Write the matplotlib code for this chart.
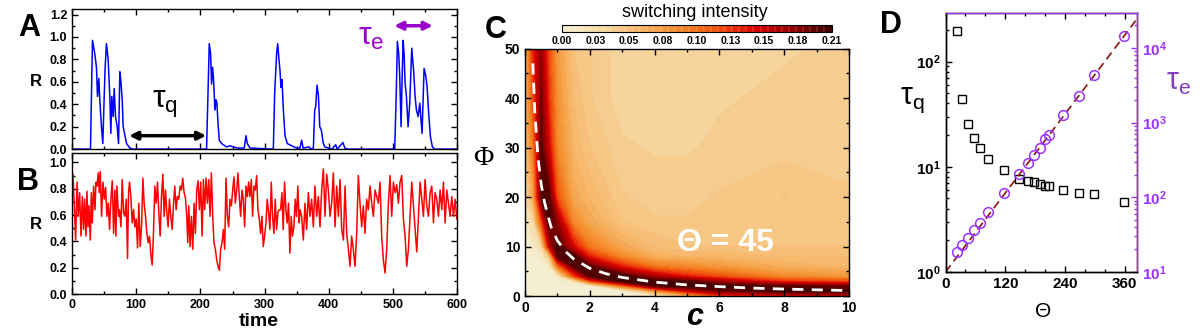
import numpy as np
import matplotlib
matplotlib.use("Agg")
import matplotlib.pyplot as plt
from matplotlib.colors import LinearSegmentedColormap
from matplotlib.ticker import MultipleLocator, LogLocator, NullFormatter, FuncFormatter

plt.rcParams['font.family'] = ['Liberation Sans', 'DejaVu Sans']
plt.rcParams['mathtext.fontset'] = 'custom'
plt.rcParams['mathtext.rm'] = 'Liberation Sans'
plt.rcParams['mathtext.bf'] = 'Liberation Sans:bold'
plt.rcParams['mathtext.it'] = 'Liberation Sans:italic'
plt.rcParams['xtick.direction'] = 'in'
plt.rcParams['ytick.direction'] = 'in'

# ---- panel A: quiet/burst trace (time, R)
trace_a = [(0, 0), (28.8, 0), (31.9, 0.97), (35.5, 0.85), (38.1, 0.73), (39.7, 0.47), (41.8, 0.63),
           (43.3, 0.44), (45.9, 0.20), (48.0, 0.05), (50.0, 0.44), (51.6, 0.73), (53.7, 0.94),
           (56.3, 0.80), (58.9, 0.47), (60.5, 0.14), (62.0, 0.47), (64.1, 0.29), (65.7, 0.54),
           (67.8, 0.29), (70.4, 0.20), (72.5, 0.05), (74.5, 0.69), (76.1, 0.61), (78.2, 0.44),
           (79.7, 0.20), (81.8, 0.14), (85.0, 0.05), (90.1, 0.01), (95, 0), (209.6, 0),
           (213.8, 0.94), (215.9, 0.85), (217.4, 0.58), (219.0, 0.73), (220.6, 0.61), (222.6, 0.35),
           (224.2, 0.44), (225.7, 0.41), (227.8, 0.20), (229.4, 0.08), (233.0, 0.05), (240.8, 0.02),
           (246.0, 0.03), (251.2, 0.02), (257.4, 0.01), (268.3, 0.01), (271.0, 0.12), (273.1, 0.05),
           (277.2, 0.01), (313.6, 0), (315.7, 0.5), (318.8, 0.86), (320.4, 0.94), (322.4, 0.80),
           (324.0, 0.70), (325.5, 0.55), (327.1, 0.62), (329.2, 0.35), (331.8, 0.12), (335.4, 0.05),
           (342.2, 0.03), (350, 0.01), (355, 0.01), (357.7, 0.08), (360, 0.01), (369.2, 0.02),
           (371.8, 0.0), (376, 0.01), (378.0, 0.35), (379.6, 0.38), (381.7, 0.57), (383.8, 0.48),
           (385.9, 0.20), (388.4, 0.17), (391.1, 0.06), (393.7, 0.02), (405, 0.0), (410.8, 0.04),
           (413, 0.0), (422.2, 0.06), (424.8, 0.01), (430, 0), (502.7, 0), (505.3, 0.55),
           (506.8, 0.96), (508.9, 0.85), (510.5, 0.65), (512.6, 0.20), (514.1, 0.60), (515.7, 0.97),
           (517.3, 0.85), (518.8, 0.59), (520.9, 0.47), (523.5, 0.20), (526.1, 0.41), (529.2, 0.90),
           (532.4, 0.68), (534.4, 0.47), (536.5, 0.35), (539.1, 0.29), (541.7, 0.41), (545.3, 0.14),
           (548.4, 0.72), (551.1, 0.65), (553.1, 0.56), (555.2, 0.35), (558.3, 0.11), (561.4, 0.02),
           (565, 0.0), (600, 0)]

# ---- panel B: noisy trace (time, R)
trace_b = [(0, 0.79), (1.6, 0.91), (3.6, 0.67), (5.7, 0.41), (7.8, 0.85), (9.8, 0.59), (11.9, 0.77),
           (14, 0.44), (16.1, 0.74), (18.1, 0.49), (19.7, 0.72), (21.8, 0.44), (23.3, 0.78), (24.9, 0.51),
           (26.4, 0.67), (28.5, 0.41), (30.1, 0.77), (31.6, 0.54), (33.7, 0.82), (35.8, 0.64), (37.3, 0.85),
           (38.9, 0.82), (40.9, 0.92), (42.5, 0.77), (44, 0.93), (46.1, 0.59), (48.2, 0.85), (50.3, 0.72),
           (52.3, 0.81), (54.4, 0.59), (56.5, 0.69), (58.5, 0.49), (60.6, 0.72), (62.7, 0.86), (64.8, 0.46),
           (66.8, 0.79), (68.4, 0.44), (69.9, 0.82), (72.5, 0.59), (74.1, 0.64), (76.2, 0.51), (78.2, 0.87),
           (80.3, 0.62), (82.4, 0.59), (84.5, 0.72), (86.5, 0.27), (88.1, 0.77), (89.6, 0.85), (91.7, 0.74),
           (93.8, 0.54), (95.9, 0.64), (97.9, 0.51), (100, 0.57), (102.1, 0.35), (104.1, 0.69), (106.2, 0.36),
           (108.3, 0.51), (110.4, 0.88), (112.4, 0.69), (114.5, 0.59), (116.6, 0.46), (118.7, 0.39),
           (120.7, 0.44), (122.8, 0.30), (124.9, 0.22), (126.9, 0.46), (129, 0.82), (131.1, 0.69),
           (133.2, 0.85), (135.2, 0.62), (137.3, 0.44), (139.4, 0.74), (141.5, 0.91), (143.5, 0.59),
           (145.6, 0.79), (147.7, 0.62), (149.7, 0.51), (151.8, 0.72), (153.9, 0.59), (156, 0.49),
           (158, 0.67), (160.1, 0.82), (162.2, 0.64), (164.2, 0.74), (166.3, 0.72), (168.4, 0.82),
           (170.5, 0.79), (172.5, 0.88), (174.6, 0.77), (176.7, 0.73), (178.8, 0.59), (180.3, 0.39),
           (181.9, 0.67), (183.9, 0.36), (186, 0.59), (188.1, 0.34), (190.2, 0.69), (192.2, 0.46),
           (194.3, 0.79), (196.4, 0.86), (198.4, 0.64), (200.5, 0.85), (202.6, 0.44), (204.7, 0.87),
           (206.7, 0.64), (208.8, 0.88), (210.9, 0.69), (213, 0.87), (215, 0.59), (217.1, 0.92),
           (219.2, 0.59), (221.2, 0.39), (223.3, 0.34), (225.4, 0.26), (227.5, 0.21), (229.5, 0.18),
           (231.6, 0.34), (233.7, 0.39), (235.8, 0.49), (237.8, 0.34), (239.9, 0.88), (242, 0.59),
           (244, 0.51), (246.1, 0.72), (248.2, 0.67), (250.3, 0.79), (252.3, 0.89), (254.4, 0.69),
           (256.5, 0.79), (258.5, 0.92), (260.6, 0.74), (262.7, 0.59), (264.8, 0.79), (266.8, 0.72),
           (268.9, 0.51), (271, 0.82), (273.1, 0.74), (275.1, 0.85), (277.2, 0.74), (279.3, 0.87),
           (281.3, 0.59), (283.4, 0.82), (285.5, 0.79), (287.6, 0.90), (289.6, 0.64), (291.7, 0.57),
           (293.8, 0.46), (295.9, 0.59), (297.9, 0.36), (300, 0.44), (302.1, 0.54), (304.1, 0.72),
           (306.2, 0.62), (308.3, 0.49), (310.4, 0.85), (312.4, 0.59), (314.5, 0.46), (316.6, 0.72),
           (318.7, 0.49), (320.7, 0.62), (322.8, 0.64), (324.9, 0.64), (327, 0.77), (329, 0.49),
           (331.1, 0.85), (333.2, 0.64), (335.2, 0.54), (337.3, 0.69), (339.4, 0.31), (341.5, 0.59),
           (343.5, 0.44), (345.6, 0.51), (347.7, 0.72), (349.7, 0.59), (351.8, 0.82), (353.9, 0.54),
           (355.1, 0.64), (357.7, 0.59), (360.3, 0.41), (362.9, 0.69), (365.5, 0.49), (368.1, 0.77),
           (370.7, 0.59), (373.3, 0.72), (375.9, 0.51), (378.5, 0.82), (381.1, 0.59), (383.7, 0.74),
           (386.3, 0.51), (388.9, 0.79), (391.5, 0.95), (394.1, 0.59), (396.7, 0.91), (399.3, 0.79),
           (401.9, 0.59), (404.5, 0.69), (407.1, 0.92), (409.7, 0.51), (412.3, 0.82), (414.9, 0.59),
           (417.5, 0.87), (420.1, 0.49), (422.7, 0.41), (425.3, 0.82), (427.9, 0.46), (430.5, 0.34),
           (433.1, 0.21), (435.6, 0.44), (438.2, 0.34), (440.8, 0.21), (443.4, 0.46), (446, 0.90),
           (448.6, 0.69), (451.2, 0.51), (453.8, 0.67), (456.4, 0.46), (459, 0.72), (461.6, 0.64),
           (464.2, 0.82), (466.8, 0.69), (469.4, 0.59), (472, 0.79), (474.6, 0.74), (477.2, 0.69),
           (479.8, 0.85), (482.4, 0.44), (485, 0.26), (487.6, 0.16), (490.2, 0.34), (492.8, 0.69),
           (495.4, 0.90), (498, 0.59), (500.6, 0.85), (503.2, 0.77), (505.8, 0.83), (508.4, 0.69),
           (511, 0.85), (513.6, 0.90), (516.2, 0.57), (518.8, 0.44), (521.4, 0.21), (524, 0.34),
           (526.6, 0.59), (529.2, 0.85), (531.8, 0.67), (534.4, 0.49), (537, 0.32), (539.6, 0.59),
           (542.2, 0.85), (544.8, 0.72), (547.4, 0.59), (550, 0.87), (552.6, 0.67), (555.2, 0.59),
           (557.8, 0.77), (560.4, 0.82), (563, 0.54), (565.6, 0.77), (568.2, 0.72), (570.8, 0.59),
           (573.4, 0.79), (576, 0.64), (578.6, 0.85), (581.2, 0.54), (583.8, 0.79), (586.4, 0.69),
           (589, 0.59), (591.6, 0.74), (594.2, 0.59), (596.8, 0.72), (599.4, 0.57), (600, 0.62)]

# ---- panel C: switching intensity on a (c, Phi) grid
c_grid = [0, 0.25, 0.5, 0.75, 1.0, 1.5, 2, 3, 4, 5, 6, 8, 10]
phi_grid = [0, 1, 2, 3, 4, 6, 8, 10, 15, 20, 30, 40, 50]
intensity = [
    [0.0, 0.0, 0.0, 0.0, 0.0, 0.0, 0.0, 0.0, 0.01, 0.06, 0.12, 0.14, 0.15],
    [0.0, 0.0, 0.0, 0.0, 0.0, 0.0, 0.0, 0.0, 0.08, 0.15, 0.19, 0.21, 0.21],
    [0.0, 0.0, 0.0, 0.0, 0.0, 0.0, 0.0, 0.10, 0.20, 0.21, 0.21, 0.20, 0.19],
    [0.0, 0.0, 0.0, 0.0, 0.0, 0.02, 0.12, 0.21, 0.21, 0.20, 0.17, 0.13, 0.12],
    [0.0, 0.0, 0.0, 0.0, 0.01, 0.12, 0.20, 0.21, 0.17, 0.14, 0.12, 0.09, 0.08],
    [0.0, 0.0, 0.0, 0.01, 0.10, 0.20, 0.20, 0.14, 0.10, 0.09, 0.08, 0.065, 0.06],
    [0.0, 0.005, 0.01, 0.05, 0.20, 0.21, 0.14, 0.09, 0.065, 0.06, 0.06, 0.055, 0.055],
    [0.005, 0.01, 0.03, 0.16, 0.21, 0.15, 0.10, 0.07, 0.055, 0.05, 0.05, 0.05, 0.05],
    [0.015, 0.03, 0.12, 0.21, 0.18, 0.09, 0.07, 0.05, 0.045, 0.045, 0.045, 0.045, 0.045],
    [0.03, 0.07, 0.20, 0.20, 0.12, 0.07, 0.06, 0.045, 0.042, 0.042, 0.045, 0.05, 0.045],
    [0.05, 0.10, 0.20, 0.15, 0.09, 0.06, 0.05, 0.04, 0.038, 0.038, 0.04, 0.042, 0.042],
    [0.055, 0.12, 0.19, 0.13, 0.085, 0.055, 0.045, 0.035, 0.035, 0.035, 0.038, 0.04, 0.04],
    [0.06, 0.14, 0.18, 0.12, 0.08, 0.05, 0.045, 0.035, 0.035, 0.035, 0.038, 0.038, 0.04],
]
curve_c = [0.24, 0.3, 0.4, 0.5, 0.6, 0.8, 1.0, 1.25, 1.5, 2, 2.5, 3, 4, 5, 6, 7, 8, 9, 10]
curve_phi = [47, 37.5, 28, 22.5, 19, 14, 11.2, 9, 7.5, 5.6, 4.5, 3.75, 2.8, 2.25, 1.9, 1.6, 1.4, 1.25, 1.1]
cbar_labels = ['0.00', '0.03', '0.05', '0.08', '0.10', '0.13', '0.15', '0.18', '0.21']

# ---- panel D: mean times vs Theta
theta = [22.5, 33.5, 45, 58, 69, 86, 118, 148, 166, 178, 190, 200, 208, 237, 268, 298, 358]
tau_q = [196, 43.7, 25.6, 18.7, 15.2, 11.9, 9.3, 7.6, 7.35, 7.08, 6.88, 6.58, 6.49, 5.98, 5.6, 5.52, 4.67]
tau_e = [18.5, 22.8, 28.8, 36.1, 45.3, 63, 114, 203, 288, 373, 458, 599, 677, 1253, 2254, 4305, 14630]
fit_theta = [0, 385]
fit_tau = [10, 24500]

purple = '#9933ff'

fig = plt.figure(figsize=(12, 3.3), dpi=100)


def style_ticks(ax, size=9):
    ax.tick_params(which='both', top=True, right=True, width=1.0)
    ax.tick_params(which='major', length=4, labelsize=size)
    ax.tick_params(which='minor', length=2.5)
    for lab in ax.get_xticklabels() + ax.get_yticklabels():
        lab.set_fontweight('bold')
    for s in ax.spines.values():
        s.set_linewidth(1.0)


# A
axA = fig.add_axes([0.060, 0.548, 0.321, 0.425])
tA, rA = np.array(trace_a).T
axA.plot(tA, rA, color='#0000ff', lw=1.1)
axA.set_xlim(0, 600)
axA.set_ylim(0, 1.25)
axA.xaxis.set_major_locator(MultipleLocator(100))
axA.xaxis.set_minor_locator(MultipleLocator(50))
axA.yaxis.set_major_locator(MultipleLocator(0.2))
axA.yaxis.set_minor_locator(MultipleLocator(0.1))
axA.yaxis.set_major_formatter(FuncFormatter(lambda v, p: '%.1f' % v))
axA.set_xticklabels([])
style_ticks(axA)
axA.annotate('', xy=(89, 0.12), xytext=(209, 0.12),
             arrowprops=dict(arrowstyle='<|-|>', color='k', lw=2.5, mutation_scale=12, shrinkA=0, shrinkB=0))
axA.text(125, 0.40, r'$\mathrm{\tau_q}$', fontsize=23, va='center')
axA.annotate('', xy=(502, 1.10), xytext=(562, 1.10),
             arrowprops=dict(arrowstyle='<|-|>', color='#9900cc', lw=2.5, mutation_scale=12, shrinkA=0, shrinkB=0))
axA.text(446, 1.0, r'$\mathrm{\tau_e}$', fontsize=23, va='center', color='#9900cc')

# B
axB = fig.add_axes([0.060, 0.109, 0.321, 0.427])
tB, rB = np.array(trace_b).T
axB.plot(tB, rB, color='#ff0000', lw=1.1)
axB.set_xlim(0, 600)
axB.set_ylim(0, 1.07)
axB.xaxis.set_major_locator(MultipleLocator(100))
axB.xaxis.set_minor_locator(MultipleLocator(50))
axB.yaxis.set_major_locator(MultipleLocator(0.2))
axB.yaxis.set_minor_locator(MultipleLocator(0.1))
axB.yaxis.set_major_formatter(FuncFormatter(lambda v, p: '%.1f' % v))
style_ticks(axB)

fig.text(0.03, 0.752, 'R', fontsize=12, fontweight='bold', ha='center', va='center')
fig.text(0.03, 0.321, 'R', fontsize=12, fontweight='bold', ha='center', va='center')
fig.text(0.216, 0.027, 'time', fontsize=14, fontweight='bold', ha='center', va='center')

# C
cmap = LinearSegmentedColormap.from_list('swi', [
    (0.0, '#f4f1d6'), (0.15, '#f5d9a5'), (0.25, '#f6c07a'), (0.38, '#f59a3c'),
    (0.5, '#f27318'), (0.62, '#ee3a0a'), (0.72, '#d80000'), (0.85, '#9a0000'), (1.0, '#3a0000')])
axC = fig.add_axes([0.4375, 0.103, 0.270, 0.750])
levels = np.linspace(0, 0.21, 39)
cs = axC.contourf(c_grid, phi_grid, intensity, levels=levels, cmap=cmap)
axC.plot(curve_c, curve_phi, color='white', lw=2, ls=(0, (4, 3)))
axC.set_xlim(0, 10)
axC.set_ylim(0, 50)
axC.xaxis.set_major_locator(MultipleLocator(2))
axC.xaxis.set_minor_locator(MultipleLocator(1))
axC.yaxis.set_major_locator(MultipleLocator(10))
axC.yaxis.set_minor_locator(MultipleLocator(5))
style_ticks(axC, 10)
axC.text(6.2, 10.7, 'Θ = 45', color='white', fontsize=23, fontweight='bold', ha='center', va='center')
fig.text(0.4025, 0.521, 'Φ', fontsize=20, family='Liberation Serif', ha='center', va='center')
fig.text(0.579, 0.04, 'c', fontsize=22, fontweight='bold', style='italic', ha='center', va='center')

cax = fig.add_axes([0.468, 0.903, 0.225, 0.021])
cb = fig.colorbar(cs, cax=cax, orientation='horizontal', ticks=np.linspace(0, 0.21, 9), drawedges=True)
cb.dividers.set_color('white')
cb.dividers.set_linewidth(0.3)
cb.dividers.set_alpha(0.6)
cb.outline.set_linewidth(0.8)
cb.ax.set_xticklabels(cbar_labels)
cb.ax.tick_params(labelsize=7.5, length=0, pad=3)
for lab in cb.ax.get_xticklabels():
    lab.set_fontweight('bold')
fig.text(0.579, 0.961, 'switching intensity', fontsize=13, ha='center', va='center')

# D
axD = fig.add_axes([0.788, 0.176, 0.1595, 0.785])
axD.semilogy(theta, tau_q, 's', mfc='none', mec='k', ms=5.5, mew=1.0)
axD.set_xlim(0, 385)
axD.set_ylim(1, 290)
axD.xaxis.set_major_locator(MultipleLocator(120))
axD.xaxis.set_minor_locator(MultipleLocator(40))
axD.yaxis.set_major_locator(LogLocator(base=10))
axD.yaxis.set_minor_locator(LogLocator(base=10, subs=np.arange(2, 10)))
axD.yaxis.set_minor_formatter(NullFormatter())
axD.yaxis.set_major_formatter(FuncFormatter(lambda v, p: r'$\mathbf{10^{%d}}$' % round(np.log10(v))))
axD.tick_params(which='both', top=True, width=1.0)
axD.tick_params(which='major', length=4, labelsize=11)
axD.tick_params(which='minor', length=2.5)
for lab in axD.get_xticklabels():
    lab.set_fontweight('bold')

axE = axD.twinx()
axE.plot(fit_theta, fit_tau, ls=(0, (5, 3)), color='#8b1010', lw=1.2)
axE.semilogy(theta, tau_e, 'o', mfc='none', mec=purple, ms=7, mew=1.1)
axE.set_ylim(10, 29500)
axE.yaxis.set_major_locator(LogLocator(base=10))
axE.yaxis.set_minor_locator(LogLocator(base=10, subs=np.arange(2, 10)))
axE.yaxis.set_minor_formatter(NullFormatter())
axE.yaxis.set_major_formatter(FuncFormatter(lambda v, p: r'$\mathbf{10^{%d}}$' % round(np.log10(v))))
axE.tick_params(which='both', colors=purple, width=1.0)
axE.tick_params(which='major', length=4, labelsize=11)
axE.tick_params(which='minor', length=2.5)
axE.spines['right'].set_color(purple)
axE.spines['top'].set_color(purple)
for s in list(axD.spines.values()) + list(axE.spines.values()):
    s.set_linewidth(1.0)

fig.text(0.76, 0.697, r'$\mathrm{\tau_q}$', fontsize=22, ha='center', va='center')
fig.text(0.982, 0.752, r'$\mathrm{\tau_e}$', fontsize=22, ha='center', va='center', color='#7f3fbf')
fig.text(0.869, 0.055, 'Θ', fontsize=15, ha='center', va='center')

# panel letters
for x, y, s in [(0.015, 0.915, 'A'), (0.014, 0.448, 'B'), (0.404, 0.909, 'C'), (0.733, 0.924, 'D')]:
    fig.text(x, y, s, fontsize=22, fontweight='bold', ha='left', va='center')

fig.savefig('out.png', dpi=100)
